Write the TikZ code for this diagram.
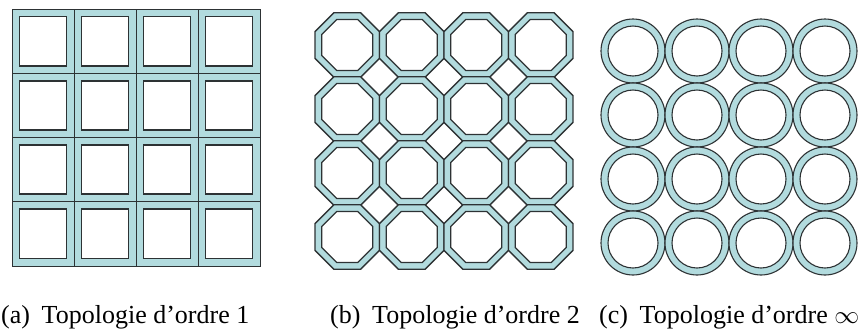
\documentclass[tikz,border=0pt]{standalone}
\usepackage{fontspec}
\setmainfont{Liberation Serif}
\definecolor{ringfill}{RGB}{178,219,222}
\definecolor{edge}{RGB}{45,50,52}
\begin{document}
\begin{tikzpicture}[x=1pt,y=-1pt,
  gridline/.style={draw=edge,line width=1pt},
  holeline/.style={draw=edge,line width=1.8pt,fill=white},
  ringline/.style={draw=edge,line width=1.3pt},
  caption/.style={anchor=base west,inner sep=0pt,font=\fontsize{26}{31}\selectfont}]
\useasboundingbox (0,0) rectangle (863,333);
% ---------- (a) square grid ----------
\fill[ringfill] (12,9) rectangle (260,266);
\foreach \i in {0,...,3}{
  \foreach \j in {0,...,3}{
    \pgfmathsetmacro\xa{12+62*\i}
    \pgfmathsetmacro\ya{9+64.25*\j}
    \draw[gridline] (\xa,\ya) rectangle ({\xa+62},{\ya+64.25});
    \draw[holeline] ({\xa+7.5},{\ya+7.5}) rectangle ({\xa+62-7.5},{\ya+64.25-7.5});
  }
}
% ---------- (b) octagons ----------
\foreach \i in {0,...,3}{
  \foreach \j in {0,...,3}{
    \pgfmathsetmacro\cx{347.25+64.5*\i}
    \pgfmathsetmacro\cy{45+64*\j}
    \begin{scope}[shift={(\cx,\cy)}]
      \fill[ringfill,even odd rule]
        (22.5:34.9pt) -- (67.5:34.9pt) -- (112.5:34.9pt) -- (157.5:34.9pt) -- (202.5:34.9pt) -- (247.5:34.9pt) -- (292.5:34.9pt) -- (337.5:34.9pt) -- cycle
        (22.5:27.6pt) -- (67.5:27.6pt) -- (112.5:27.6pt) -- (157.5:27.6pt) -- (202.5:27.6pt) -- (247.5:27.6pt) -- (292.5:27.6pt) -- (337.5:27.6pt) -- cycle;
      \draw[ringline]
        (22.5:34.9pt) -- (67.5:34.9pt) -- (112.5:34.9pt) -- (157.5:34.9pt) -- (202.5:34.9pt) -- (247.5:34.9pt) -- (292.5:34.9pt) -- (337.5:34.9pt) -- cycle
        (22.5:27.6pt) -- (67.5:27.6pt) -- (112.5:27.6pt) -- (157.5:27.6pt) -- (202.5:27.6pt) -- (247.5:27.6pt) -- (292.5:27.6pt) -- (337.5:27.6pt) -- cycle;
    \end{scope}
  }
}
% ---------- (c) circles ----------
\foreach \i in {0,...,3}{
  \foreach \j in {0,...,3}{
    \pgfmathsetmacro\cx{633+64*\i}
    \pgfmathsetmacro\cy{51+64*\j}
    \fill[ringfill,even odd rule] (\cx,\cy) circle (32pt) (\cx,\cy) circle (25pt);
    \draw[ringline,line width=1.1pt] (\cx,\cy) circle (32pt) (\cx,\cy) circle (25pt);
  }
}
% ---------- captions ----------
\node[caption] (capa) at (1,323) {(a)\hspace{0.45em}Topologie d’ordre 1};
\node[caption] (capb) at (330,323) {(b)\hspace{0.45em}Topologie d’ordre 2};
\node[caption] (capc) at (599,323) {(c)\hspace{0.45em}Topologie d’ordre $\infty$};
\end{tikzpicture}
\end{document}
